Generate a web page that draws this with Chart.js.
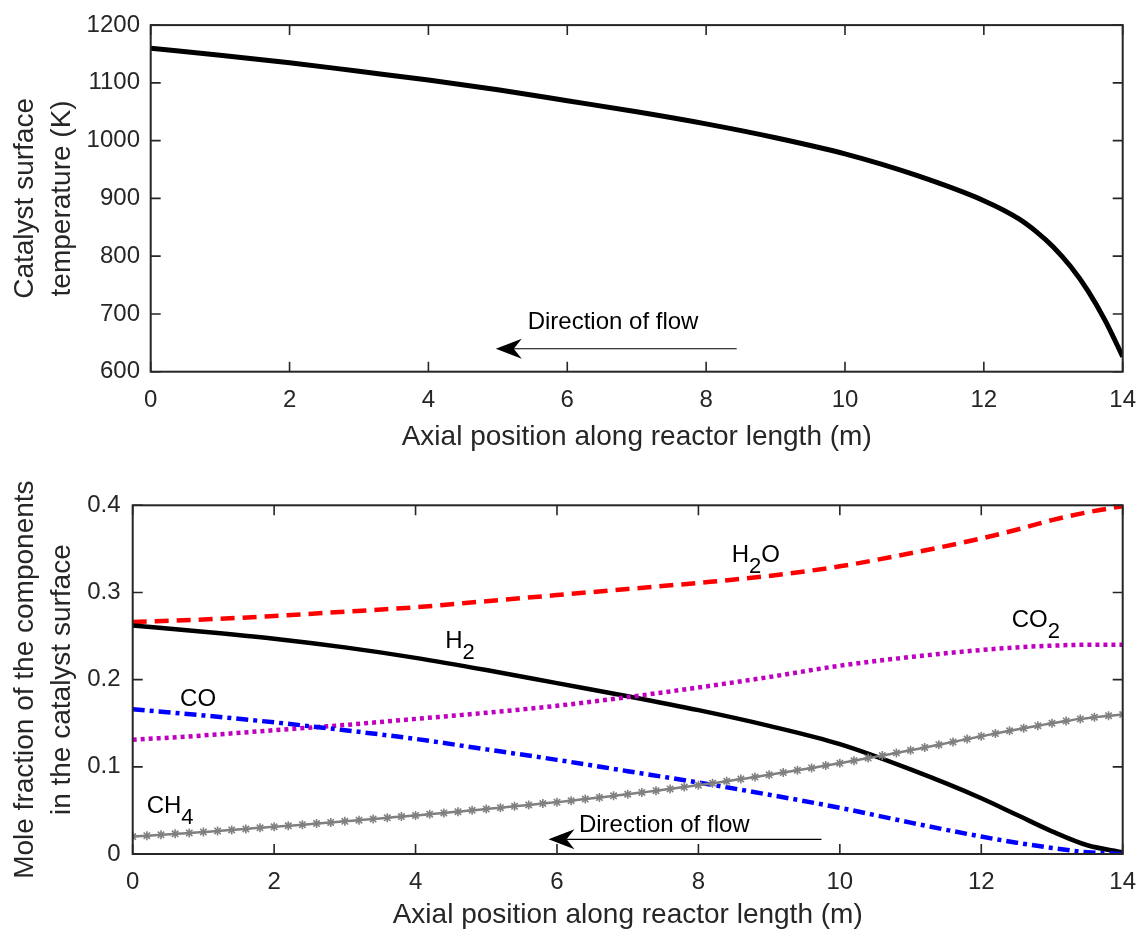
<!DOCTYPE html>
<html>
<head>
<meta charset="utf-8">
<script src="https://cdn.jsdelivr.net/npm/chart.js@4.4.1/dist/chart.umd.min.js"></script>
<style>
  html, body { margin: 0; padding: 0; background: #fff; }
  #wrap { position: relative; width: 1137px; height: 933px; }
  .panel { position: absolute; left: 0; width: 1137px; }
  #topPanel { top: 0; height: 466px; }
  #bottomPanel { top: 466px; height: 467px; }
</style>
</head>
<body>
<div id="wrap">
  <div class="panel" id="topPanel"><canvas id="tempChart" width="1137" height="466"></canvas></div>
  <div class="panel" id="bottomPanel"><canvas id="fracChart" width="1137" height="467"></canvas></div>
</div>
<script>
// Catalyst surface temperature profile (K) vs axial position (m)
const tempPos = [0, 1, 2, 3, 4, 5, 6, 7, 8, 9, 10, 11, 12, 12.5, 12.75, 13, 13.25, 13.5, 13.75, 14];
const tempK = [1160, 1148, 1135, 1120, 1105, 1088, 1069, 1050, 1029, 1005, 977, 941, 896, 865, 843, 816, 782, 740, 688, 626];

// Mole fractions at the catalyst surface
const fracPos = [0, 1, 2, 3, 4, 5, 6, 7, 8, 9, 10, 11, 12, 12.5, 13, 13.5, 14];
const h2o = [0.266, 0.269, 0.273, 0.278, 0.283, 0.290, 0.297, 0.304, 0.311, 0.319, 0.330, 0.345, 0.362, 0.372, 0.383, 0.392, 0.399];
const h2  = [0.262, 0.255, 0.247, 0.237, 0.225, 0.211, 0.196, 0.181, 0.165, 0.147, 0.126, 0.097, 0.064, 0.045, 0.026, 0.010, 0.002];
const co  = [0.166, 0.159, 0.151, 0.142, 0.132, 0.120, 0.108, 0.095, 0.082, 0.068, 0.053, 0.036, 0.020, 0.013, 0.007, 0.002, 0.000];
const co2 = [0.131, 0.136, 0.142, 0.148, 0.155, 0.162, 0.170, 0.180, 0.191, 0.203, 0.216, 0.226, 0.234, 0.237, 0.239, 0.240, 0.240];

// CH4 is sampled every 0.2 m (one marker per sample)
const ch4Step = 0.2;
const ch4 = [
  0.0200, 0.0210, 0.0220, 0.0231, 0.0242, 0.0253, 0.0264, 0.0276, 0.0288, 0.0300,
  0.0312, 0.0324, 0.0336, 0.0349, 0.0362, 0.0375, 0.0388, 0.0401, 0.0415, 0.0429,
  0.0443, 0.0457, 0.0471, 0.0486, 0.0501, 0.0516, 0.0531, 0.0547, 0.0563, 0.0579,
  0.0595, 0.0612, 0.0630, 0.0648, 0.0667, 0.0686, 0.0706, 0.0726, 0.0747, 0.0768,
  0.0790, 0.0812, 0.0835, 0.0859, 0.0883, 0.0908, 0.0934, 0.0960, 0.0987, 0.1014,
  0.1042, 0.1071, 0.1100, 0.1130, 0.1160, 0.1190, 0.1222, 0.1254, 0.1286, 0.1318,
  0.1350, 0.1382, 0.1413, 0.1443, 0.1472, 0.1500, 0.1526, 0.1550, 0.1570, 0.1587,
  0.1600
];

const FONT = '"Liberation Sans", Arial, Helvetica, sans-serif';
const AXIS_COLOR = '#262626';
const TICK_LEN = 10;

function pts(xs, ys) {
  return xs.map((x, i) => ({ x: x, y: ys[i] }));
}

// MATLAB-like box with inward ticks on all four sides
const boxTicks = {
  id: 'boxTicks',
  afterDatasetsDraw(chart) {
    const { ctx, chartArea: a, scales: { x, y } } = chart;
    ctx.save();
    ctx.strokeStyle = AXIS_COLOR;
    ctx.lineWidth = 1.6;
    ctx.beginPath();
    x.ticks.forEach(t => {
      const px = x.getPixelForValue(t.value);
      ctx.moveTo(px, a.bottom); ctx.lineTo(px, a.bottom - TICK_LEN);
      ctx.moveTo(px, a.top); ctx.lineTo(px, a.top + TICK_LEN);
    });
    y.ticks.forEach(t => {
      const py = y.getPixelForValue(t.value);
      ctx.moveTo(a.left, py); ctx.lineTo(a.left + TICK_LEN, py);
      ctx.moveTo(a.right, py); ctx.lineTo(a.right - TICK_LEN, py);
    });
    ctx.stroke();
    ctx.lineWidth = 2;
    ctx.strokeRect(a.left, a.top, a.right - a.left, a.bottom - a.top);
    ctx.restore();
  }
};

// text with optional subscripts: parts = [[text, isSub], ...]
function drawRich(ctx, x, y, parts) {
  let cx = x;
  parts.forEach(([txt, sub]) => {
    ctx.font = (sub ? 22 : 24) + 'px ' + FONT;
    ctx.fillText(txt, cx, sub ? y + 11 : y);
    cx += ctx.measureText(txt).width;
  });
}

function drawArrow(ctx, x0, x1, y) {
  // thin shaft from x0 back to the head at x1 (pointing left)
  ctx.beginPath();
  ctx.moveTo(x0, y);
  ctx.lineTo(x1 + 18, y);
  ctx.lineWidth = 1.2;
  ctx.stroke();
  ctx.beginPath();
  ctx.moveTo(x1, y);
  ctx.lineTo(x1 + 26, y - 10);
  ctx.lineTo(x1 + 18, y);
  ctx.lineTo(x1 + 26, y + 10);
  ctx.closePath();
  ctx.fill();
}

const notes = {
  id: 'notes',
  afterDatasetsDraw(chart, args, opts) {
    const { ctx, scales: { x, y } } = chart;
    ctx.save();
    ctx.fillStyle = '#000';
    ctx.strokeStyle = '#000';
    ctx.textBaseline = 'alphabetic';
    ctx.textAlign = 'left';
    (opts.labels || []).forEach(l => {
      drawRich(ctx, x.getPixelForValue(l.x), y.getPixelForValue(l.y), l.parts);
    });
    if (opts.arrow) {
      const ar = opts.arrow;
      drawArrow(ctx, x.getPixelForValue(ar.from), x.getPixelForValue(ar.to), y.getPixelForValue(ar.y));
    }
    ctx.restore();
  }
};

function xScale(height, titlePadBottom) {
  return {
    type: 'linear', min: 0, max: 14,
    ticks: { stepSize: 2, color: AXIS_COLOR, padding: 14, font: { family: FONT, size: 24 },
      callback: v => String(v) },
    grid: { display: false, drawTicks: false },
    border: { display: false },
    title: {
      display: true, text: 'Axial position along reactor length (m)', color: AXIS_COLOR,
      font: { family: FONT, size: 28, lineHeight: 1.2 }, padding: { top: 0, bottom: titlePadBottom }
    },
    afterFit(s) {
      s.height = height;
      // keep the end labels from shrinking the plot area
      s.paddingLeft = 0;
      s.paddingRight = 0;
    }
  };
}

function yScale(min, max, step, width, lines, tickPad, fmt) {
  return {
    type: 'linear', min: min, max: max,
    ticks: { stepSize: step, color: AXIS_COLOR, padding: tickPad, font: { family: FONT, size: 24 },
      callback: fmt },
    grid: { display: false, drawTicks: false },
    border: { display: false },
    title: {
      display: true, text: lines, color: AXIS_COLOR,
      font: { family: FONT, size: 28, lineHeight: 1.32 }, padding: { top: 6.5, bottom: 0 }
    },
    afterFit(s) { s.width = width; }
  };
}

Chart.defaults.animation = false;

// Top: catalyst surface temperature
new Chart(document.getElementById('tempChart'), {
  type: 'line',
  data: {
    datasets: [{
      data: pts(tempPos, tempK),
      borderColor: '#000', borderWidth: 5, pointRadius: 0,
      cubicInterpolationMode: 'monotone', fill: false
    }]
  },
  options: {
    responsive: false, devicePixelRatio: 1,
    layout: { padding: { top: 24, right: 14.3, left: 0, bottom: 0 } },
    plugins: {
      legend: { display: false }, tooltip: { enabled: false },
      notes: {
        labels: [{ x: 5.43, y: 673.6, parts: [['Direction of flow', false]] }],
        arrow: { from: 8.44, to: 4.97, y: 639.7 }
      }
    },
    scales: {
      x: xScale(94.3, 12.2),
      y: yScale(600, 1200, 100, 150.7, ['Catalyst surface', 'temperature (K)'], 10.7, v => String(v))
    }
  },
  plugins: [boxTicks, notes]
});

// Bottom: mole fractions
new Chart(document.getElementById('fracChart'), {
  type: 'line',
  data: {
    datasets: [
      {
        label: 'CH4', data: ch4.map((v, i) => ({ x: i * ch4Step, y: v })),
        borderColor: '#808080', borderWidth: 2.5,
        pointStyle: 'star', pointRadius: 4.5, pointBorderWidth: 1.6,
        pointBorderColor: '#808080', pointBackgroundColor: '#808080'
      },
      {
        label: 'CO', data: pts(fracPos, co),
        borderColor: '#0000ff', borderWidth: 4.5, borderDash: [12, 5, 4, 5], pointRadius: 0
      },
      {
        label: 'CO2', data: pts(fracPos, co2),
        borderColor: '#bf00bf', borderWidth: 4.5, borderDash: [4, 4], pointRadius: 0
      },
      {
        label: 'H2', data: pts(fracPos, h2),
        borderColor: '#000', borderWidth: 4.5, pointRadius: 0
      },
      {
        label: 'H2O', data: pts(fracPos, h2o),
        borderColor: '#ff0000', borderWidth: 4.5, borderDash: [14, 8], pointRadius: 0
      }
    ]
  },
  options: {
    responsive: false, devicePixelRatio: 1,
    datasets: { line: { cubicInterpolationMode: 'monotone', fill: false } },
    layout: { padding: { top: 39.3, right: 14.3, left: 0, bottom: 0 } },
    plugins: {
      legend: { display: false }, tooltip: { enabled: false },
      notes: {
        labels: [
          { x: 8.47, y: 0.3347, parts: [['H', false], ['2', true], ['O', false]] },
          { x: 4.42, y: 0.2358, parts: [['H', false], ['2', true]] },
          { x: 12.43, y: 0.2605, parts: [['CO', false], ['2', true]] },
          { x: 0.67, y: 0.1696, parts: [['CO', false]] },
          { x: 0.198, y: 0.0466, parts: [['CH', false], ['4', true]] },
          { x: 6.31, y: 0.0256, parts: [['Direction of flow', false]] }
        ],
        arrow: { from: 9.74, to: 5.88, y: 0.0168 }
      }
    },
    scales: {
      x: xScale(79, 1.2),
      y: yScale(0, 0.4, 0.1, 132.7, ['Mole fraction of the components', 'in the catalyst surface'], 12.2,
        v => (v === 0 ? '0' : v.toFixed(1)))
    }
  },
  plugins: [boxTicks, notes]
});
</script>
</body>
</html>
